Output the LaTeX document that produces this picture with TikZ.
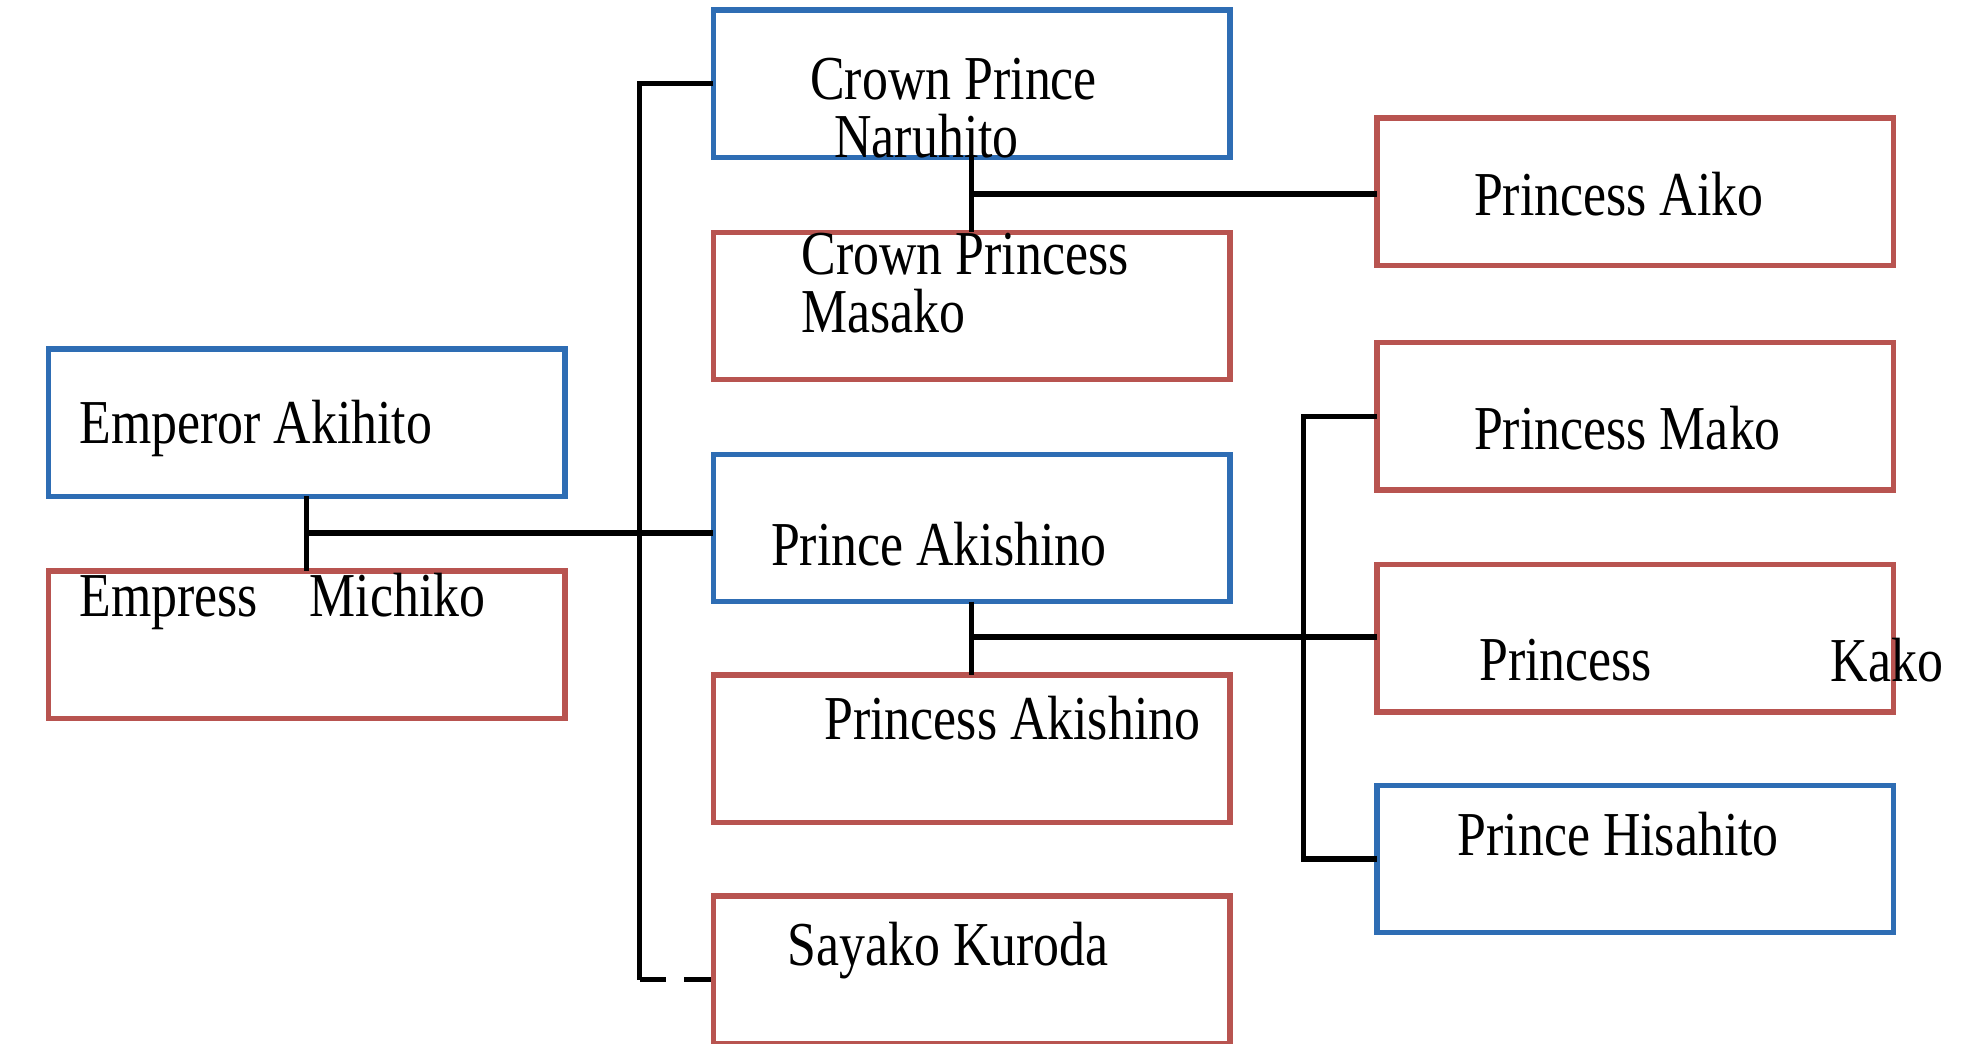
\documentclass[tikz,border=0pt]{standalone}
\usepackage{fontspec}
\setmainfont{Liberation Serif}
\begin{document}
\begin{tikzpicture}[x=0.01cm,y=-0.01cm,
  bx/.style={draw,line width=1.2pt,minimum width=4.07cm,minimum height=1.16cm,anchor=north west,inner sep=0,outer sep=0},
  m/.style={bx,draw={rgb,255:red,46;green,109;blue,180}},
  f/.style={bx,draw={rgb,255:red,184;green,84;blue,80}},
  t/.style={anchor=west,inner sep=0,font=\fontsize{14}{16}\selectfont,xscale=0.83},
  ln/.style={line width=1.2pt}]
\useasboundingbox (0,0) rectangle (1550,822);
\node[m] (nar) at (562,8) {};
\node[f] (mas) at (562,183) {};
\node[m] (aki) at (38,275) {};
\node[f] (mic) at (38,450) {};
\node[m] (aks) at (562,358) {};
\node[f] (pak) at (562,532) {};
\node[f] (say) at (562,706) {};
\node[f] (aiko) at (1085,93) {};
\node[f] (mako) at (1085,270) {};
\node[f] (kako) at (1085,445) {};
\node[m] (his) at (1085,619) {};
\node[t] at (638,62) {Crown Prince};
\node[t] at (657,107) {Naruhito};
\node[t] at (631,200) {Crown Princess};
\node[t] at (631,245) {Masako};
\node[t] at (62,338) {Emperor Akihito};
\node[t] at (62,474) {Empress\quad Michiko};
\node[t] at (607,429) {Prince Akishino};
\node[t] at (649,566) {Princess Akishino};
\node[t] at (620,749) {Sayako Kuroda};
\node[t] at (1161,153) {Princess Aiko};
\node[t] at (1161,337) {Princess Mako};
\node[t] at (1165,520) {Princess};
\node[t] at (1442,520) {Kako};
\node[t] at (1148,657) {Prince Hisahito};
\coordinate (j1) at (243,420);
\coordinate (j2) at (765,153);
\coordinate (j3) at (766,502);
\coordinate (top) at (504,66);
\coordinate (bot) at (504,772);
\coordinate (t2) at (1027,328);
\coordinate (b2) at (1027,677);
\draw[ln] (aki.south) -- (mic.north);
\draw[ln] (j1) -- (j1 -| aks.west);
\draw[ln] (top -| nar.west) -- (top) -- (bot);
\draw[ln,dash pattern=on 6pt off 4pt] (bot) -- (bot -| say.west);
\draw[ln] (nar.south) -- (mas.north);
\draw[ln] (j2) -- (j2 -| aiko.west);
\draw[ln] (aks.south) -- (pak.north);
\draw[ln] (j3) -- (j3 -| kako.west);
\draw[ln] (t2 -| mako.west) -- (t2) -- (b2) -- (b2 -| his.west);
\end{tikzpicture}
\end{document}
